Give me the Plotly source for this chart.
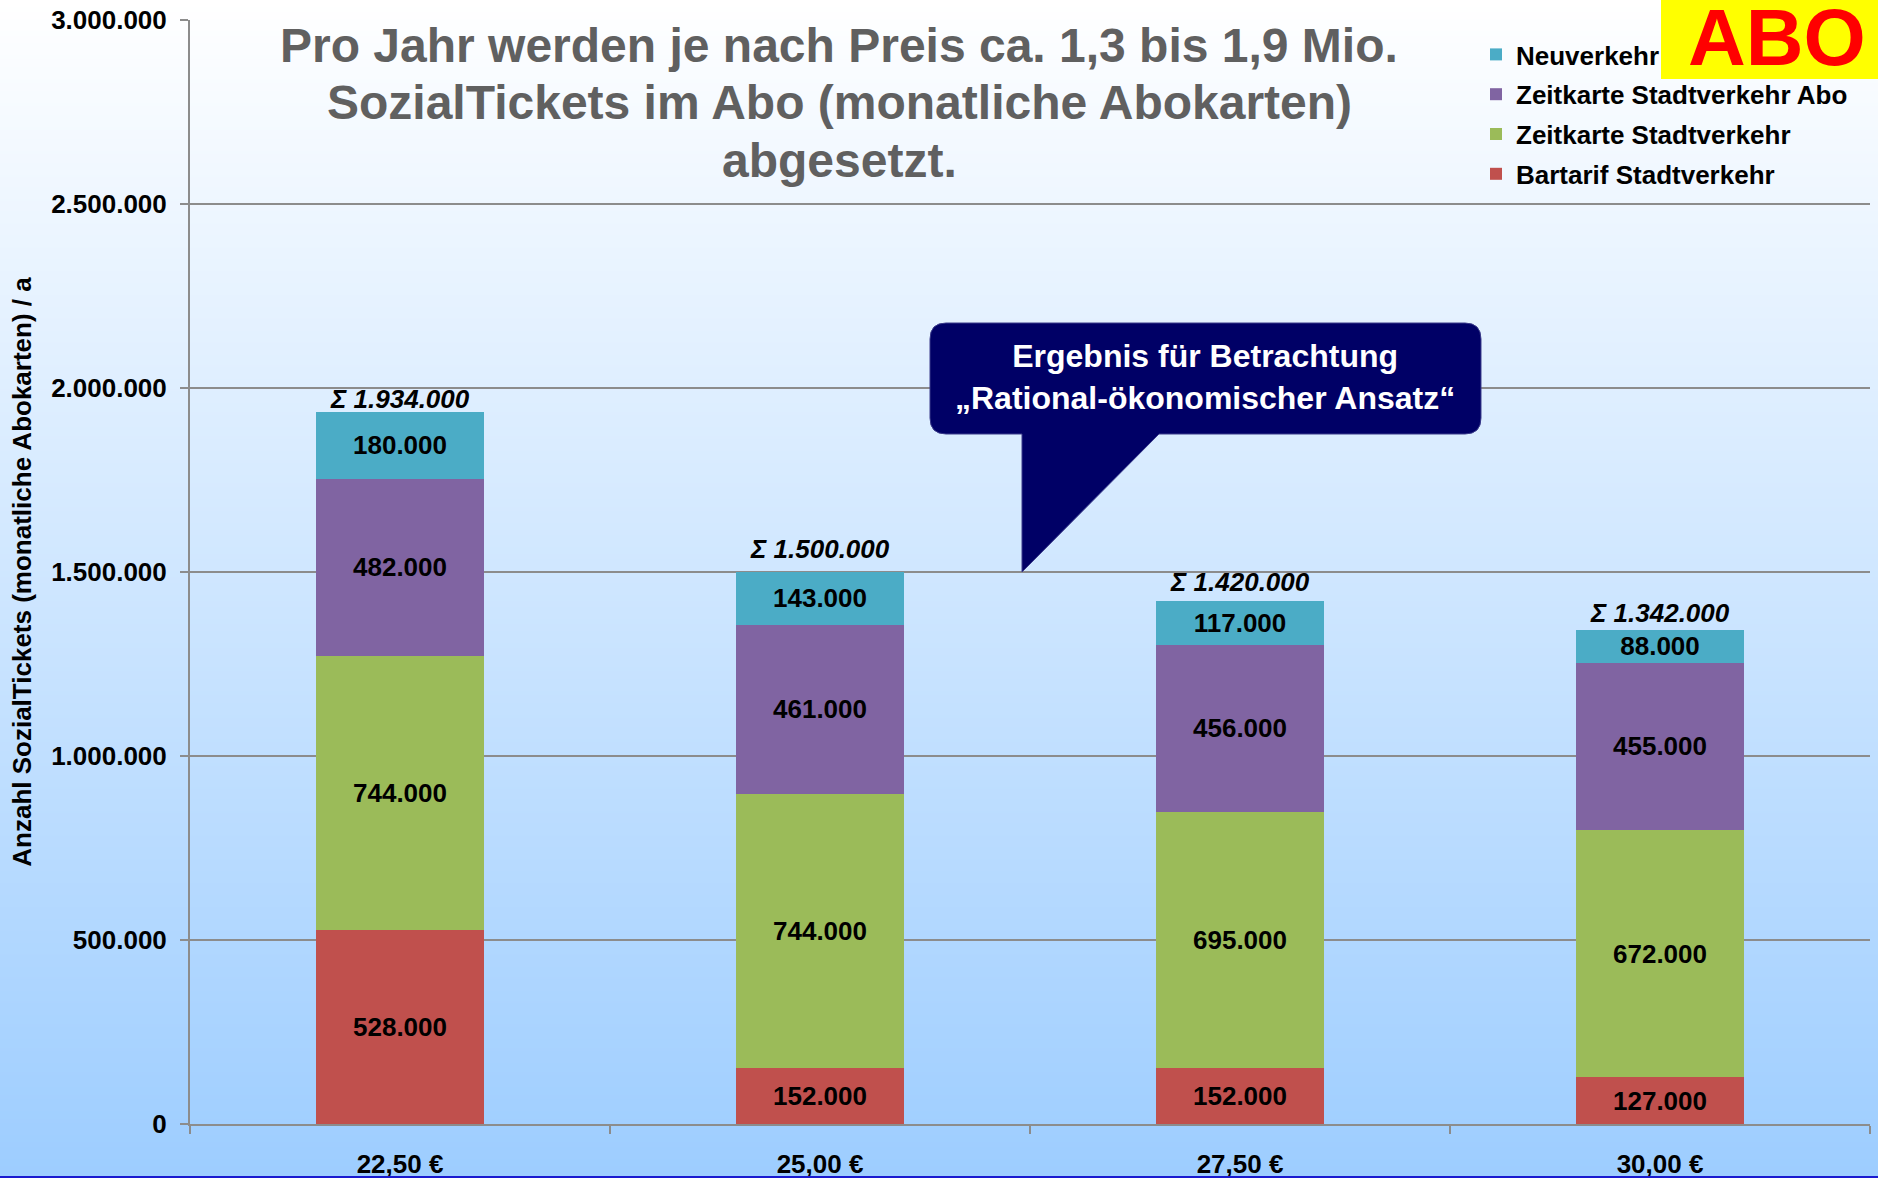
import base64
import struct
import zlib

import plotly.graph_objects as go

# ---------------- data ----------------
categories = ["22,50 €", "25,00 €", "27,50 €", "30,00 €"]
bartarif = [528000, 152000, 152000, 127000]
zeitkarte = [744000, 744000, 695000, 672000]
zeitkarte_abo = [482000, 461000, 456000, 455000]
neuverkehr = [180000, 143000, 117000, 88000]
y_tick_values = [0, 500000, 1000000, 1500000, 2000000, 2500000, 3000000]

series_names = ["Bartarif Stadtverkehr", "Zeitkarte Stadtverkehr",
                "Zeitkarte Stadtverkehr Abo", "Neuverkehr"]
series_values = [bartarif, zeitkarte, zeitkarte_abo, neuverkehr]
series_colors = ["#C0504D", "#9BBB59", "#8064A2", "#4BACC6"]
legend_ranks = [4, 3, 2, 1]

totals = [sum(v) for v in zip(*series_values)]

# per-label pixel offsets of the Σ labels (as placed in the original slide)
sum_label_shift = [-4, 6, 2, 0]

FONT = "Liberation Sans, Arial, sans-serif"
W, H = 1878, 1178
L, R, T, B = 190, 1870, 20, 1124


def de(v):
    return f"{v:,}".replace(",", ".")


def PX(x):
    return (x - L) / (R - L)


def PY(y):
    return (B - y) / (B - T)


# ---------------- gradient background (PNG data URI) ----------------
def gradient_png(height, top, bottom):
    rows = []
    for i in range(height):
        t = i / (height - 1)
        rgb = bytes(int(round(top[k] + (bottom[k] - top[k]) * t)) for k in range(3))
        rows.append(b"\x00" + rgb)
    raw = b"".join(rows)

    def chunk(tag, data):
        return (struct.pack(">I", len(data)) + tag + data
                + struct.pack(">I", zlib.crc32(tag + data) & 0xFFFFFFFF))

    png = (b"\x89PNG\r\n\x1a\n"
           + chunk(b"IHDR", struct.pack(">IIBBBBB", 1, height, 8, 2, 0, 0, 0))
           + chunk(b"IDAT", zlib.compress(raw))
           + chunk(b"IEND", b""))
    return "data:image/png;base64," + base64.b64encode(png).decode()


bg = gradient_png(H, (255, 255, 255), (157, 205, 255))

fig = go.Figure()

for name, vals, color, rank in zip(series_names, series_values, series_colors, legend_ranks):
    fig.add_bar(
        x=categories, y=vals, name=name, width=0.4,
        marker=dict(color=color, line=dict(width=0)),
        text=[de(v) for v in vals], textposition="inside",
        insidetextanchor="middle", textangle=0,
        textfont=dict(family=FONT, size=26, color="black", weight="bold"),
        legendgroup=name, legendrank=rank, hoverinfo="skip",
    )

annotations = []
for cat, tot, sh in zip(categories, totals, sum_label_shift):
    annotations.append(dict(
        x=cat, y=tot, xref="x", yref="y", yanchor="bottom", yshift=sh,
        text=f"<b><i>Σ {de(tot)}</i></b>", showarrow=False,
        font=dict(family=FONT, size=26, color="black"),
    ))

title_lines = ["Pro Jahr werden je nach Preis ca. 1,3 bis 1,9 Mio.",
               "SozialTickets im Abo (monatliche Abokarten)",
               "abgesetzt."]
title_y = [46, 103, 160]
for line, yy in zip(title_lines, title_y):
    annotations.append(dict(
        x=PX(839), y=PY(yy), xref="paper", yref="paper",
        xanchor="center", yanchor="middle", showarrow=False,
        text=f"<b>{line}</b>",
        font=dict(family=FONT, size=48, color="#606060"),
    ))

# callout text
annotations.append(dict(
    x=PX(1205), y=PY(377), xref="paper", yref="paper",
    xanchor="center", yanchor="middle", showarrow=False,
    text="<b>Ergebnis für Betrachtung<br>„Rational-ökonomischer Ansatz“</b>",
    font=dict(family=FONT, size=32, color="white"),
))

# ABO badge text
annotations.append(dict(
    x=PX(1777), y=PY(37), xref="paper", yref="paper",
    xanchor="center", yanchor="middle", showarrow=False,
    text="<b>ABO</b>",
    font=dict(family=FONT, size=80, color="#FF0000"),
))


def P(x, y):
    return f"{PX(x):.5f},{PY(y):.5f}"


r = 16
x0, x1, y0, y1 = 930, 1481, 323, 434
path = (f"M{P(x0 + r, y0)} L{P(x1 - r, y0)} Q{P(x1, y0)} {P(x1, y0 + r)} "
        f"L{P(x1, y1 - r)} Q{P(x1, y1)} {P(x1 - r, y1)} "
        f"L{P(1159, y1)} L{P(1022, 572)} L{P(1022, y1)} "
        f"L{P(x0 + r, y1)} Q{P(x0, y1)} {P(x0, y1 - r)} "
        f"L{P(x0, y0 + r)} Q{P(x0, y0)} {P(x0 + r, y0)} Z")

shapes = [
    dict(type="path", path=path, xref="paper", yref="paper",
         fillcolor="#000066", line=dict(color="#3a3a8a", width=1), layer="above"),
    dict(type="rect", xref="paper", yref="paper",
         x0=PX(1661), x1=PX(1880), y0=PY(79), y1=PY(-2),
         fillcolor="#FFFF00", line=dict(width=0), layer="above"),
    dict(type="line", xref="paper", yref="paper",
         x0=PX(0), x1=PX(W), y0=PY(1177), y1=PY(1177),
         line=dict(color="#1a1ad0", width=2), layer="above"),
]

fig.update_layout(
    width=W, height=H,
    margin=dict(l=L, r=W - R, t=T, b=H - B, pad=0, autoexpand=False),
    barmode="stack",
    uniformtext=dict(minsize=26, mode="show"),
    paper_bgcolor="white",
    plot_bgcolor="rgba(0,0,0,0)",
    font=dict(family=FONT, color="black"),
    showlegend=True,
    legend=dict(
        x=PX(1476), y=PY(31), xanchor="left", yanchor="top",
        traceorder="grouped", tracegroupgap=3,
        bgcolor="rgba(0,0,0,0)",
        font=dict(family=FONT, size=26, color="black", weight="bold"),
    ),
    images=[dict(source=bg, xref="paper", yref="paper",
                 x=PX(0), y=PY(0), sizex=W / (R - L), sizey=H / (B - T),
                 xanchor="left", yanchor="top", sizing="stretch",
                 layer="below")],
    annotations=annotations,
    shapes=shapes,
    xaxis=dict(
        automargin=False,
        showline=True, linecolor="#8c8c8c", linewidth=2,
        ticks="outside", tickson="boundaries", ticklen=8,
        tickcolor="#8c8c8c", tickwidth=2,
        tickfont=dict(family=FONT, size=26, color="black", weight="bold"),
        ticklabelstandoff=16, showgrid=False,
    ),
    yaxis=dict(
        automargin=False,
        range=[0, 3000000],
        tickvals=y_tick_values, ticktext=[de(v) for v in y_tick_values],
        showline=True, linecolor="#8c8c8c", linewidth=2,
        ticks="outside", ticklen=8, tickcolor="#8c8c8c", tickwidth=2,
        showgrid=True, gridcolor="#8c8c8c", gridwidth=1.5,
        zeroline=False,
        tickfont=dict(family=FONT, size=26, color="black", weight="bold"),
        ticklabelstandoff=8,
        title=dict(text="Anzahl SozialTickets (monatliche Abokarten) / a",
                   font=dict(family=FONT, size=26, color="black", weight="bold"),
                   standoff=12),
    ),
)

fig.write_html(
    "out.html",
    config={"displayModeBar": False},
    post_script="document.body.style.margin='0px';",
)
